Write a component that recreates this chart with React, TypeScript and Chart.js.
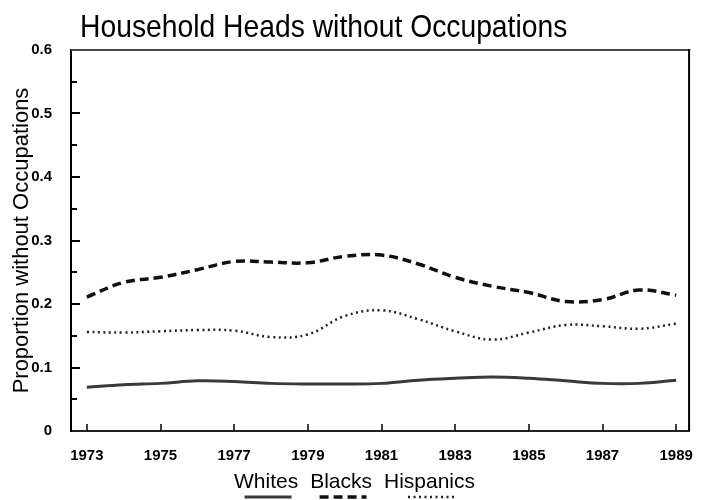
import React, { useEffect, useRef } from "react";
import { Chart, registerables } from "chart.js";

Chart.register(...registerables);

const chartTitle = "Household Heads without Occupations";
const yAxisTitle = "Proportion without Occupations";
const years = [1973, 1974, 1975, 1976, 1977, 1978, 1979, 1980, 1981, 1982, 1983, 1984, 1985, 1986, 1987, 1988, 1989];
const whites = [0.069, 0.073, 0.075, 0.079, 0.078, 0.075, 0.074, 0.074, 0.075, 0.080, 0.083, 0.085, 0.083, 0.079, 0.075, 0.075, 0.080];
const blacks = [0.211, 0.234, 0.242, 0.254, 0.267, 0.266, 0.265, 0.275, 0.277, 0.263, 0.242, 0.228, 0.218, 0.204, 0.207, 0.222, 0.214];
const hispanics = [0.156, 0.155, 0.157, 0.159, 0.158, 0.148, 0.152, 0.181, 0.190, 0.176, 0.157, 0.144, 0.155, 0.167, 0.165, 0.161, 0.169];
const seriesLabels = ["Whites", "Blacks", "Hispanics"];
const xTickYears = [1973, 1975, 1977, 1979, 1981, 1983, 1985, 1987, 1989];
const yMajorTicks = [0, 0.1, 0.2, 0.3, 0.4, 0.5, 0.6];
const yMinorTicks = [0.05, 0.15, 0.25, 0.35, 0.45, 0.55];

const FONT = '"Liberation Sans", Arial, Helvetica, sans-serif';

const framePlugin = {
  id: "frameAndTicks",
  afterDraw(chart: any) {
    const { ctx, chartArea, scales } = chart;
    const { left, right, top, bottom } = chartArea;
    const x = scales.x;
    const y = scales.y;
    ctx.save();
    ctx.lineCap = "butt";
    // top and right frame
    ctx.lineWidth = 2;
    ctx.strokeStyle = "#4a4a4a";
    ctx.beginPath();
    ctx.moveTo(left, top);
    ctx.lineTo(right + 1, top);
    ctx.stroke();
    ctx.strokeStyle = "#000";
    ctx.beginPath();
    ctx.moveTo(right, top - 1);
    ctx.lineTo(right, bottom);
    ctx.stroke();
    // inward y ticks
    ctx.lineWidth = 2;
    yMajorTicks.forEach((v) => {
      if (v === 0 || v === 0.6) return;
      const py = Math.round(y.getPixelForValue(v));
      ctx.beginPath();
      ctx.moveTo(left, py);
      ctx.lineTo(left + 9, py);
      ctx.stroke();
    });
    yMinorTicks.forEach((v) => {
      const py = Math.round(y.getPixelForValue(v));
      ctx.beginPath();
      ctx.moveTo(left, py);
      ctx.lineTo(left + 6, py);
      ctx.stroke();
    });
    // inward x ticks
    ctx.lineWidth = 1.5;
    xTickYears.forEach((v) => {
      const px = Math.round(x.getPixelForValue(v));
      ctx.beginPath();
      ctx.moveTo(px, bottom);
      ctx.lineTo(px, bottom - 7);
      ctx.stroke();
    });

    // title
    ctx.fillStyle = "#000";
    ctx.font = `28px ${FONT}`;
    ctx.textBaseline = "alphabetic";
    ctx.textAlign = "left";
    ctx.save();
    ctx.translate(80, 37);
    ctx.scale(1.01, 1.15);
    ctx.fillText(chartTitle, 0, 0);
    ctx.restore();

    // legend: labels with line samples underneath
    ctx.font = `21px ${FONT}`;
    const datasets = chart.data.datasets;
    const widths = datasets.map((d: any) => ctx.measureText(d.label).width);
    const gap = 12;
    const total = widths.reduce((a: number, b: number) => a + b, 0) + gap * (datasets.length - 1);
    let cx = 354.5 - total / 2;
    datasets.forEach((d: any, i: number) => {
      ctx.fillStyle = "#000";
      ctx.fillText(d.label, cx, 488);
      const mid = cx + widths[i] / 2 + 2;
      ctx.save();
      ctx.strokeStyle = d.borderColor;
      ctx.lineWidth = d.borderWidth;
      ctx.setLineDash(d.borderDash || []);
      ctx.beginPath();
      ctx.moveTo(mid - 23.5, 497);
      ctx.lineTo(mid + 23.5, 497);
      ctx.stroke();
      ctx.restore();
      cx += widths[i] + gap;
    });
    ctx.restore();
  },
};

export default function App() {
  const canvasRef = useRef<HTMLCanvasElement | null>(null);

  useEffect(() => {
    const canvas = canvasRef.current;
    if (!canvas) return;
    const toPoints = (vals: number[]) => years.map((yr, i) => ({ x: yr, y: vals[i] }));
    const chart = new Chart(canvas, {
      type: "line",
      data: {
        datasets: [
          {
            label: seriesLabels[0],
            data: toPoints(whites),
            borderColor: "#3a3a3a",
            borderWidth: 3,
            borderDash: [],
            pointRadius: 0,
            tension: 0.4,
            fill: false,
          },
          {
            label: seriesLabels[1],
            data: toPoints(blacks),
            borderColor: "#111",
            borderWidth: 3.5,
            borderDash: [9, 5],
            pointRadius: 0,
            tension: 0.4,
            fill: false,
          },
          {
            label: seriesLabels[2],
            data: toPoints(hispanics),
            borderColor: "#222",
            borderWidth: 2.5,
            borderDash: [2, 3.5],
            pointRadius: 0,
            tension: 0.4,
            fill: false,
          },
        ],
      },
      options: {
        responsive: false,
        animation: false,
        layout: { padding: { top: 50, right: 6, left: 0, bottom: 0 } },
        plugins: {
          legend: { display: false },
          title: { display: false },
          tooltip: { enabled: false },
        },
        scales: {
          x: {
            type: "linear",
            min: 1972.57,
            max: 1989.35,
            grid: { display: false },
            border: { display: true, width: 2, color: "#222" },
            afterBuildTicks: (scale: any) => {
              scale.ticks = xTickYears.map((v) => ({ value: v }));
            },
            afterFit: (scale: any) => {
              scale.height = 69;
            },
            ticks: {
              autoSkip: false,
              maxRotation: 0,
              padding: 8,
              color: "#000",
              font: { family: FONT, size: 15, weight: "bold" },
              callback: (v: any) => String(v),
            },
          },
          y: {
            type: "linear",
            min: 0,
            max: 0.6,
            grid: { display: false },
            border: { display: true, width: 2, color: "#000" },
            afterBuildTicks: (scale: any) => {
              scale.ticks = yMajorTicks.map((v) => ({ value: v }));
            },
            afterFit: (scale: any) => {
              scale.width = 71;
            },
            title: {
              display: true,
              text: yAxisTitle,
              color: "#000",
              font: { family: FONT, size: 22, weight: "normal" },
              padding: { top: 9, bottom: 0 },
            },
            ticks: {
              padding: 11,
              color: "#000",
              font: { family: FONT, size: 15, weight: "bold" },
              callback: (v: any) => (Number(v) === 0 ? "0" : Number(v).toFixed(1)),
            },
          },
        },
      },
      plugins: [framePlugin],
    });
    return () => chart.destroy();
  }, []);

  return (
    <div style={{ position: "fixed", left: 0, top: 0, width: 701, height: 500, background: "#fff" }}>
      <canvas ref={canvasRef} width={701} height={500} style={{ display: "block" }} />
    </div>
  );
}
